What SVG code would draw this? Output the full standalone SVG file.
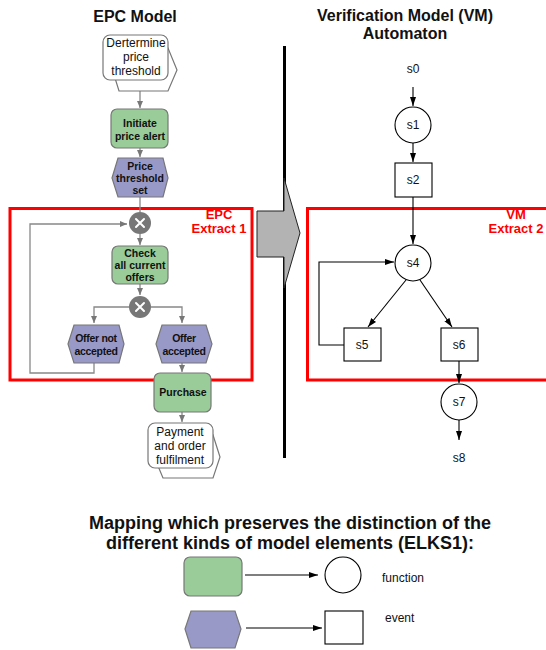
<svg xmlns="http://www.w3.org/2000/svg" width="546" height="650" viewBox="0 0 546 650">
<defs>
<marker id="ag" markerWidth="8" markerHeight="8" refX="7" refY="4" orient="auto" markerUnits="userSpaceOnUse"><path d="M0,1 L7,4 L0,7 Z" fill="#777"/></marker>
<marker id="ab" markerWidth="10" markerHeight="8" refX="9" refY="4" orient="auto" markerUnits="userSpaceOnUse"><path d="M0,1 L9,4 L0,7 Z" fill="#000"/></marker>
</defs>
<style>
.title{font-family:"Liberation Sans",Arial,sans-serif;font-weight:bold;font-size:16px;fill:#111;text-anchor:middle}
.big{font-size:18px}
.lbl{font-family:"Liberation Sans",Arial,sans-serif;font-weight:bold;font-size:10.5px;fill:#111;text-anchor:middle}
.plain{font-family:"Liberation Sans",Arial,sans-serif;font-size:12px;fill:#111;text-anchor:middle}
.st{font-family:"Liberation Sans",Arial,sans-serif;font-size:12px;fill:#111;text-anchor:middle}
.red{font-family:"Liberation Sans",Arial,sans-serif;font-weight:bold;font-size:13px;fill:#f00;text-anchor:middle}
.fn{fill:#99cc99;stroke:#777;stroke-width:1.2}
.ev{fill:#9999c8;stroke:#777;stroke-width:1.2}
.pi{fill:#fff;stroke:#777;stroke-width:1.2}
.gw{fill:#777}
.gx{stroke:#fff;stroke-width:2;stroke-linecap:round}
.ce{fill:none;stroke:#888;stroke-width:1.3}
.cb{fill:none;stroke:#000;stroke-width:1.1}
.box{fill:none;stroke:#f00;stroke-width:3}
.state{fill:#fff;stroke:#000;stroke-width:1.1}
</style>

<text class="title" x="135" y="22">EPC Model</text>
<text class="title" x="405" y="21">Verification Model (VM)</text>
<text class="title" x="405" y="39">Automaton</text>

<!-- divider and big arrow -->
<line x1="284.5" y1="46" x2="284.5" y2="458" stroke="#000" stroke-width="3"/>
<polygon points="257,211 284,211 284,178 300,233 284,288 284,257 257,257" fill="#b3b3b3" stroke="#222" stroke-width="1"/>

<!-- red extract boxes -->
<rect class="box" x="10" y="208.5" width="242" height="171.5"/>
<text class="red" x="219" y="219">EPC</text>
<text class="red" x="219" y="233">Extract 1</text>
<rect class="box" x="307.5" y="208.5" width="245" height="171.5"/>
<text class="red" x="516" y="219">VM</text>
<text class="red" x="516" y="233">Extract 2</text>

<g id="connectors-epc">
<line class="ce" x1="140" y1="91" x2="140" y2="108" marker-end="url(#ag)"/>
<line class="ce" x1="140" y1="148" x2="140" y2="157" marker-end="url(#ag)"/>
<line class="ce" x1="140" y1="197" x2="140" y2="212"/>
<line class="ce" x1="140" y1="234" x2="140" y2="245" marker-end="url(#ag)"/>
<line class="ce" x1="140" y1="284" x2="140" y2="295" marker-end="url(#ag)"/>
<polyline class="ce" points="129,307 94,307 94,323" marker-end="url(#ag)"/>
<polyline class="ce" points="151,307 182,307 182,323" marker-end="url(#ag)"/>
<polyline class="ce" points="94,363 94,373 30,373 30,224 127,224" marker-end="url(#ag)"/>
<line class="ce" x1="182" y1="363" x2="182" y2="372" marker-end="url(#ag)"/>
<line class="ce" x1="182" y1="412" x2="182" y2="422" marker-end="url(#ag)"/>
</g>

<g id="n-determine">
<polygon class="pi" points="115,78 119,91 168,91 177,70 168,48"/>
<rect class="pi" x="103" y="35" width="65" height="45" rx="7"/>
<text class="plain" x="136" y="47">Dertermine</text>
<text class="plain" x="136" y="61">price</text>
<text class="plain" x="136" y="75">threshold</text>
</g>
<g id="n-initiate">
<rect class="fn" x="111" y="109" width="57" height="39" rx="6"/>
<text class="lbl" x="140" y="127">Initiate</text>
<text class="lbl" x="140" y="140">price alert</text>
</g>
<g id="n-pts">
<polygon class="ev" points="112,178 118,158 163,158 168,178 163,197 118,197"/>
<text class="lbl" x="140" y="170">Price</text>
<text class="lbl" x="140" y="182">threshold</text>
<text class="lbl" x="140" y="194">set</text>
</g>
<g id="n-xor1">
<circle class="gw" cx="140" cy="223" r="11"/>
<path class="gx" d="M136,219 L144,227 M144,219 L136,227"/>
</g>
<g id="n-check">
<rect class="fn" x="112" y="246" width="56" height="38" rx="6"/>
<text class="lbl" x="140" y="257">Check</text>
<text class="lbl" x="140" y="269">all current</text>
<text class="lbl" x="140" y="281">offers</text>
</g>
<g id="n-xor2">
<circle class="gw" cx="140" cy="307" r="11"/>
<path class="gx" d="M136,303 L144,311 M144,303 L136,311"/>
</g>
<g id="n-notacc">
<polygon class="ev" points="68,344 74,325 119,325 124,344 119,363 74,363"/>
<text class="lbl" x="96" y="342" font-size="10" letter-spacing="-0.3">Offer not</text>
<text class="lbl" x="96" y="355" font-size="10" letter-spacing="-0.3">accepted</text>
</g>
<g id="n-acc">
<polygon class="ev" points="156,344 162,325 206,325 212,344 206,363 162,363"/>
<text class="lbl" x="184" y="342" font-size="10" letter-spacing="-0.3">Offer</text>
<text class="lbl" x="184" y="355" font-size="10" letter-spacing="-0.3">accepted</text>
</g>
<g id="n-purchase">
<rect class="fn" x="154" y="373" width="57" height="39" rx="6"/>
<text class="lbl" x="183" y="396">Purchase</text>
</g>
<g id="n-payment">
<polygon class="pi" points="158,466 163,478 213,478 220,457 213,435"/>
<rect class="pi" x="148" y="423" width="65" height="45" rx="7"/>
<text class="plain" x="180" y="436">Payment</text>
<text class="plain" x="180" y="450">and order</text>
<text class="plain" x="180" y="464">fulfilment</text>
</g>

<g id="connectors-vm">
<line class="cb" x1="413" y1="87" x2="413" y2="106" marker-end="url(#ab)"/>
<line class="cb" x1="413" y1="143" x2="413" y2="162" marker-end="url(#ab)"/>
<line class="cb" x1="413" y1="197" x2="413" y2="244" marker-end="url(#ab)"/>
<line class="cb" x1="406" y1="280" x2="368" y2="327" marker-end="url(#ab)"/>
<line class="cb" x1="420" y1="280" x2="452" y2="327" marker-end="url(#ab)"/>
<polyline class="cb" points="344,345 319,345 319,262 394,262" marker-end="url(#ab)"/>
<line class="cb" x1="459" y1="361" x2="459" y2="383" marker-end="url(#ab)"/>
<line class="cb" x1="459" y1="420" x2="459" y2="440" marker-end="url(#ab)"/>
</g>

<g id="s0"><text class="st" x="413" y="73">s0</text></g>
<g id="s1"><circle class="state" cx="413" cy="125" r="18"/><text class="st" x="413" y="129">s1</text></g>
<g id="s2"><rect class="state" x="395" y="163" width="37" height="34"/><text class="st" x="413" y="184">s2</text></g>
<g id="s4"><circle class="state" cx="413" cy="263" r="18"/><text class="st" x="413" y="267">s4</text></g>
<g id="s5"><rect class="state" x="344" y="328" width="37" height="33"/><text class="st" x="362" y="349">s5</text></g>
<g id="s6"><rect class="state" x="441" y="328" width="37" height="33"/><text class="st" x="459" y="349">s6</text></g>
<g id="s7"><circle class="state" cx="459" cy="402" r="18"/><text class="st" x="459" y="406">s7</text></g>
<g id="s8"><text class="st" x="459" y="462">s8</text></g>

<text class="title big" x="290" y="529">Mapping which preserves the distinction of the</text>
<text class="title big" x="290" y="549">different kinds of model elements (ELKS1):</text>

<g id="legend-function">
<rect class="fn" x="184" y="557" width="58" height="39" rx="6"/>
<line class="cb" x1="245" y1="575" x2="318" y2="575" marker-end="url(#ab)"/>
<circle class="state" cx="343" cy="575" r="18"/>
<text class="st" x="382" y="582" style="text-anchor:start" font-size="11">function</text>
</g>
<g id="legend-event">
<polygon class="ev" points="185,629 191,611 235,611 241,629 235,648 191,648"/>
<line class="cb" x1="246" y1="628" x2="322" y2="628" marker-end="url(#ab)"/>
<rect class="state" x="325" y="611" width="38" height="33"/>
<text class="st" x="385" y="622" style="text-anchor:start" font-size="11">event</text>
</g>
</svg>
